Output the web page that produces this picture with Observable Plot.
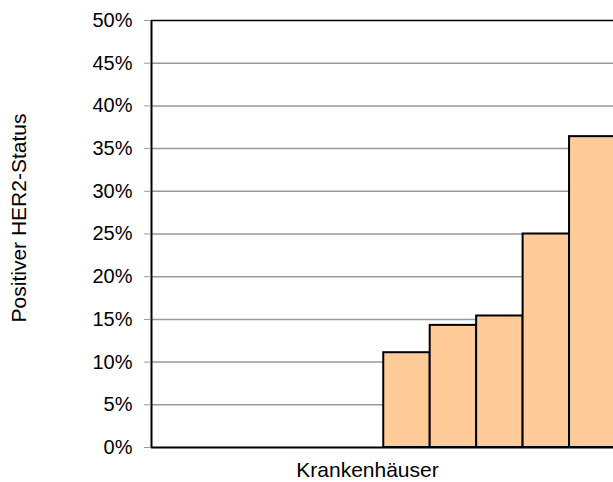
<!DOCTYPE html>
<html><head><meta charset="utf-8">
<script src="https://cdn.jsdelivr.net/npm/d3@7"></script>
<script src="https://cdn.jsdelivr.net/npm/@observablehq/plot@0.6"></script>
<style>body{margin:0;background:#fff;overflow:hidden;}</style>
</head><body><div id="chart"></div>
<script>
const hospitals = ["K1","K2","K3","K4","K5","K6","K7","K8","K9","K10"];
const herPositive = [0,0,0,0,0,0.111,0.143,0.154,0.25,0.364];
const yTicks = [0,0.05,0.1,0.15,0.2,0.25,0.3,0.35,0.4,0.45,0.5];
const yLabel = "Positiver HER2-Status";
const xLabel = "Krankenhäuser";

const data = hospitals.map((h, i) => ({h, i, v: herPositive[i]})).filter(d => d.v > 0);

const plot = Plot.plot({
  width: 613, height: 482,
  marginLeft: 151, marginRight: 0, marginTop: 20, marginBottom: 35,
  style: {fontFamily: "'Liberation Sans', Arial, sans-serif", fontSize: "20px", background: "#fff", color: "#000"},
  x: {type: "linear", domain: [0, hospitals.length], range: [151, 615.5], axis: null},
  y: {domain: [0, 0.5], axis: null},
  marks: [
    Plot.ruleY(yTicks.filter(t => t > 0 && t < 0.5), {stroke: "#999", strokeWidth: 1.5}),
    Plot.rectY(data, {x1: "i", x2: d => d.i + 1, y: "v", fill: "#FFCC99", stroke: "#000", strokeWidth: 2}),
    Plot.ruleY([0.5], {stroke: "#000", strokeWidth: 1.5}),
    Plot.ruleY([0], {stroke: "#000", strokeWidth: 2}),
    Plot.ruleX([0], {stroke: "#000", strokeWidth: 2}),
    Plot.axisY({ticks: yTicks, tickFormat: d3.format(".0%"), tickSize: 7, tickPadding: 12, stroke: "#999", fill: "#000", label: null, fontSize: 20}),
    Plot.text([yLabel], {frameAnchor: "left", textAnchor: "middle", lineAnchor: "middle", rotate: -90, dx: -132, dy: -16, text: d => d, fontSize: 21, fill: "#000"}),
    Plot.text([xLabel], {frameAnchor: "bottom", textAnchor: "middle", lineAnchor: "middle", dy: 23, dx: -15, text: d => d, fontSize: 21, fill: "#000"})
  ]
});
document.getElementById("chart").append(plot);
</script>
</body></html>
